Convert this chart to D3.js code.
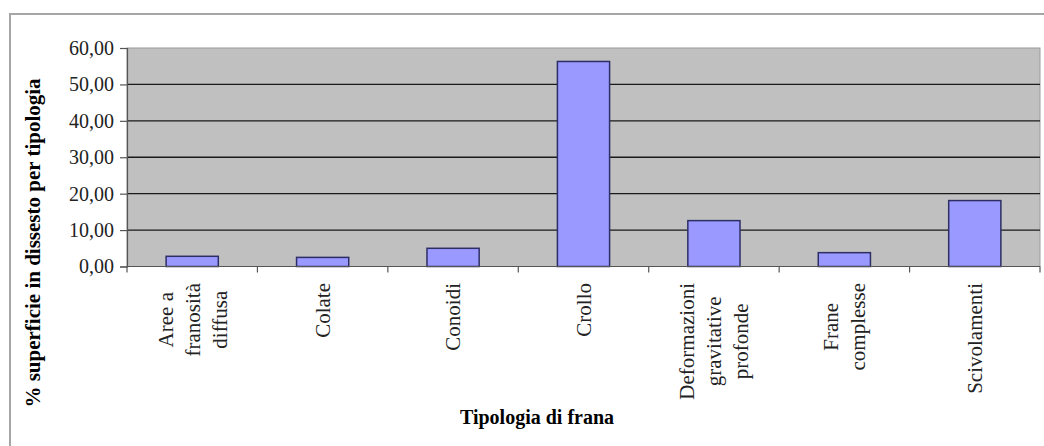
<!DOCTYPE html>
<html>
<head>
<meta charset="utf-8">
<script src="https://cdn.jsdelivr.net/npm/d3@7"></script>
<style>
  html, body { margin: 0; padding: 0; background: #ffffff; }
  svg { display: block; }
</style>
</head>
<body>
<svg id="chart" width="1044" height="446"></svg>
<script>
// Landslide types (each entry is the wrapped lines of its label)
const categories = [
  ["Aree a", "franosità", "diffusa"],
  ["Colate"],
  ["Conoidi"],
  ["Crollo"],
  ["Deformazioni", "gravitative", "profonde"],
  ["Frane", "complesse"],
  ["Scivolamenti"]
];
// Share of unstable surface per type (%)
const values = [2.8, 2.5, 5.0, 56.3, 12.6, 3.8, 18.1];
const yTicks = [0, 10, 20, 30, 40, 50, 60];
const yTitle = "% superficie in dissesto per tipologia";
const xTitle = "Tipologia di frana";

const SERIF = "'Liberation Serif', 'Times New Roman', Times, serif";

const svg = d3.select("#chart")
  .attr("font-family", SERIF);

// Outer chart frame
svg.append("rect")
  .attr("x", 10).attr("y", 14)
  .attr("width", 1060).attr("height", 460)
  .attr("fill", "#ffffff")
  .attr("stroke", "#a6a6a6").attr("stroke-width", 2);

const plot = { left: 127, right: 1040, top: 48, bottom: 266.5 };

const keys = categories.map(d => d.join(" "));
const x = d3.scaleBand().domain(keys)
  .range([plot.left, plot.right])
  .paddingInner(0.6).paddingOuter(0.3);
const xEdges = d3.scaleBand().domain(keys).range([plot.left, plot.right]);
const y = d3.scaleLinear().domain([0, 60]).range([plot.bottom, plot.top]);

// Plot area background
svg.append("rect")
  .attr("x", plot.left).attr("y", plot.top)
  .attr("width", plot.right - plot.left).attr("height", plot.bottom - plot.top)
  .attr("fill", "#c0c0c0")
  .attr("stroke", "#9a9a9a").attr("stroke-width", 1);

// Horizontal gridlines
svg.append("g")
  .selectAll("line")
  .data(yTicks.filter(t => t > 0 && t < 60))
  .join("line")
  .attr("x1", plot.left).attr("x2", plot.right)
  .attr("y1", d => y(d)).attr("y2", d => y(d))
  .attr("stroke", "#1a1a1a").attr("stroke-width", 1.3);

// Bars
svg.append("g")
  .selectAll("rect")
  .data(values)
  .join("rect")
  .attr("x", (d, i) => x(keys[i]))
  .attr("y", d => y(d))
  .attr("width", x.bandwidth())
  .attr("height", d => y(0) - y(d))
  .attr("fill", "#9999ff")
  .attr("stroke", "#2e2e66").attr("stroke-width", 1.5);

// Y axis
const yAxis = d3.axisLeft(y)
  .tickValues(yTicks)
  .tickSize(7)
  .tickPadding(6)
  .tickFormat(d => d3.format(".2f")(d).replace(".", ","));
const gy = svg.append("g")
  .attr("transform", `translate(${plot.left},0)`)
  .call(yAxis)
  .attr("font-family", SERIF)
  .attr("font-size", 20);
gy.select(".domain").attr("stroke", "#555").attr("stroke-width", 1.2);
gy.selectAll(".tick line").attr("stroke", "#555").attr("stroke-width", 1.2);
gy.selectAll(".tick text")
  .style("font-family", SERIF)
  .style("font-size", "20px")
  .attr("fill", "#222");

// Category axis baseline and tick marks at band edges
svg.append("line")
  .attr("x1", plot.left).attr("x2", plot.right)
  .attr("y1", plot.bottom).attr("y2", plot.bottom)
  .attr("stroke", "#555").attr("stroke-width", 1.2);
const edges = keys.map(k => xEdges(k)).concat([plot.right]);
svg.append("g")
  .selectAll("line")
  .data(edges)
  .join("line")
  .attr("x1", d => d).attr("x2", d => d)
  .attr("y1", plot.bottom).attr("y2", plot.bottom + 6)
  .attr("stroke", "#555").attr("stroke-width", 1.2);

// Rotated, wrapped category labels (top of block aligned under the axis)
const lineGap = 27;
const labelTop = 283;
categories.forEach((lines, i) => {
  const cx = x(keys[i]) + x.bandwidth() / 2;
  const g = svg.append("g")
    .attr("transform", `translate(${cx},${labelTop}) rotate(-90)`);
  const texts = lines.map((ln, j) => g.append("text")
    .attr("y", (j - (lines.length - 1) / 2) * lineGap)
    .attr("dy", "0.35em")
    .attr("text-anchor", "middle")
    .style("font-family", SERIF)
    .style("font-size", "21px")
    .attr("fill", "#222")
    .text(ln));
  const maxLen = d3.max(texts, t => t.node().getComputedTextLength());
  texts.forEach(t => t.attr("x", -maxLen / 2));
});

// Axis titles
svg.append("text")
  .attr("transform", "translate(40,243) rotate(-90)")
  .attr("text-anchor", "middle")
  .style("font-family", SERIF)
  .style("font-size", "21px")
  .style("font-weight", "bold")
  .attr("fill", "#000")
  .text(yTitle);

svg.append("text")
  .attr("x", 537).attr("y", 424)
  .attr("text-anchor", "middle")
  .style("font-family", SERIF)
  .style("font-size", "20px")
  .style("font-weight", "bold")
  .attr("fill", "#000")
  .text(xTitle);
</script>
</body>
</html>
